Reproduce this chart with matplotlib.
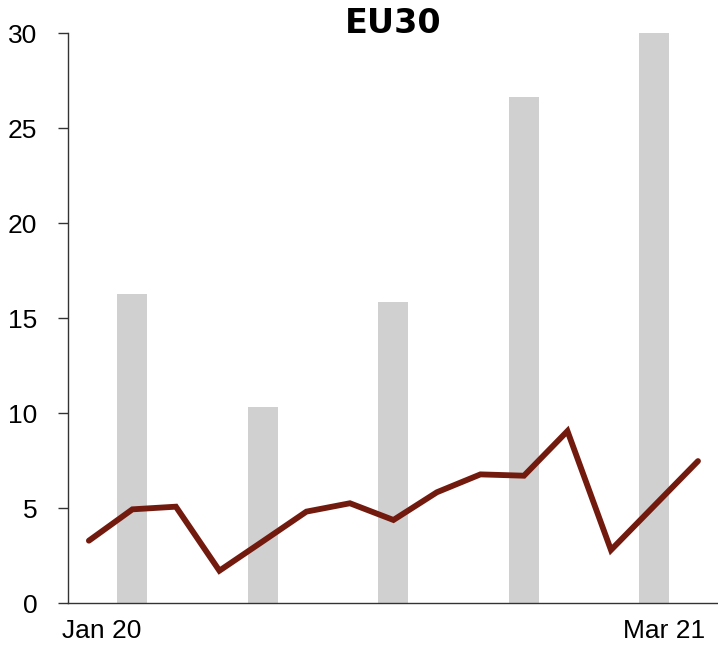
import numpy as np
import matplotlib
matplotlib.use("Agg")
import matplotlib.pyplot as plt

plt.rcParams['font.family'] = ['Liberation Sans', 'DejaVu Sans']

# Maandelijkse reeks (lijn) en kwartaalwaarden (staven)
months = ["Jan 20", "Feb 20", "Mar 20", "Apr 20", "May 20", "Jun 20", "Jul 20",
          "Aug 20", "Sep 20", "Oct 20", "Nov 20", "Dec 20", "Jan 21", "Feb 21", "Mar 21"]
monthly_values = [3.28, 4.93, 5.07, 1.70, 3.25, 4.81, 5.25, 4.37, 5.83, 6.77, 6.70, 9.05, 2.79, 5.13, 7.47]

bar_months = ["Feb 20", "May 20", "Aug 20", "Nov 20", "Feb 21"]
bar_values = [16.28, 10.3, 15.84, 26.65, 30.0]

shown_labels = ["Jan 20", "Mar 21"]

x = np.arange(len(months))
bar_x = [months.index(m) for m in bar_months]

fig = plt.figure(figsize=(7.18, 6.5), dpi=100)
ax = fig.add_axes([0.0947, 0.0723, 0.9053, 0.8769])

ax.bar(bar_x, bar_values, width=0.69, color="#d0d0d0", zorder=1)
ax.plot(x, monthly_values, color="#731a0e", linewidth=4.2,
        solid_joinstyle="miter", solid_capstyle="round", zorder=2)

ax.set_xlim(-0.48, 14.46)
ax.set_ylim(0, 30)
ax.set_yticks(np.arange(0, 31, 5))
ax.set_xticks([])

# alleen begin- en eindmaand als label onder de as
trans = ax.get_xaxis_transform()
first = months.index(shown_labels[0])
last = months.index(shown_labels[1])
ax.annotate(shown_labels[0], xy=(first, 0), xycoords=trans, xytext=(-19.5, -25),
            textcoords="offset points", ha="left", va="baseline", fontsize=19,
            annotation_clip=False)
ax.annotate(shown_labels[1], xy=(last, 0), xycoords=trans, xytext=(5, -25),
            textcoords="offset points", ha="right", va="baseline", fontsize=19,
            annotation_clip=False)

for side in ["top", "right"]:
    ax.spines[side].set_visible(False)
for side in ["left", "bottom"]:
    ax.spines[side].set_color("#333333")
    ax.spines[side].set_linewidth(1.0)

ax.tick_params(axis="y", length=7, width=1.0, color="#333333", pad=15, labelsize=19)

fig.text(0.547, 1 - 33 / 650, "EU30", ha="center", va="baseline",
         fontsize=24, fontweight="heavy", family=["DejaVu Sans"])

fig.savefig("out.png", dpi=100)
